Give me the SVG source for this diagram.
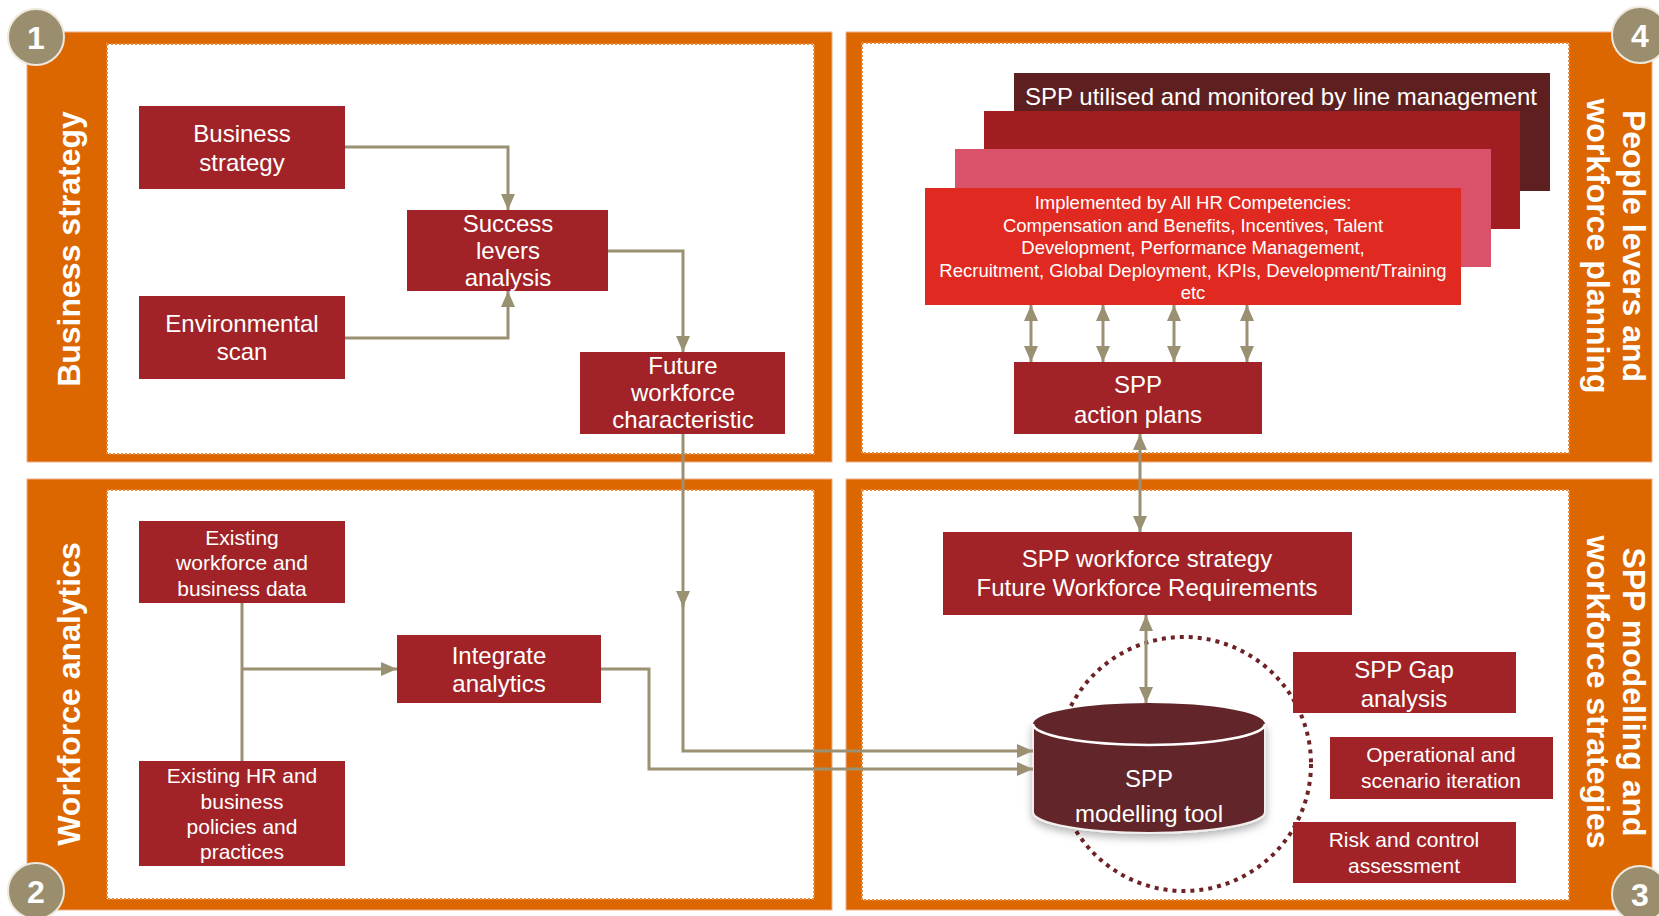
<svg xmlns="http://www.w3.org/2000/svg" width="1659" height="916" viewBox="0 0 1659 916">
<style>
.panel{fill:#DC6700;stroke:#EFB08A;stroke-width:1}
.inner{fill:#ffffff;stroke:#E98B3A;stroke-width:2;stroke-dasharray:2 2}
.box{fill:#A12327}
.t{font-family:"Liberation Sans",Arial,sans-serif;fill:#ffffff;text-anchor:middle}
.t24{font-size:24px}
.t21{font-size:21px}
.t18{font-size:18.5px}
.title{font-family:"Liberation Sans",Arial,sans-serif;font-weight:bold;font-size:32px;fill:#ffffff;text-anchor:middle}
.badge{fill:#9A8E6E;stroke:#EEE9DC;stroke-width:2}
.num{font-family:"Liberation Sans",Arial,sans-serif;font-weight:bold;font-size:32px;fill:#ffffff;text-anchor:middle}
.c{fill:none;stroke:#9A9072;stroke-width:3}
</style>
<defs>
<marker id="ah" markerUnits="userSpaceOnUse" markerWidth="16" markerHeight="14" refX="16" refY="7" orient="auto-start-reverse" viewBox="0 0 16 14">
<path d="M0,0 L16,7 L0,14 Z" fill="#9A9072"/>
</marker>
<filter id="sh" x="-20%" y="-20%" width="140%" height="160%">
<feDropShadow dx="0" dy="4" stdDeviation="4" flood-color="#000000" flood-opacity="0.3"/>
</filter>
</defs>

<g id="panel-1">
<rect class="panel" x="27" y="32" width="805" height="430"/>
<rect class="inner" x="107" y="44" width="707" height="410"/>
<text class="title" transform="translate(80,249) rotate(-90)">Business strategy</text>
</g>
<g id="panel-2">
<rect class="panel" x="27" y="479" width="805" height="431"/>
<rect class="inner" x="107" y="490" width="707" height="409"/>
<text class="title" transform="translate(80,694) rotate(-90)">Workforce analytics</text>
</g>
<g id="panel-4">
<rect class="panel" x="846" y="32" width="806" height="430"/>
<rect class="inner" x="862" y="43" width="707" height="410"/>
<text class="title" transform="translate(1623,246) rotate(90)">People levers and</text>
<text class="title" transform="translate(1587,246) rotate(90)">workforce planning</text>
</g>
<g id="panel-3">
<rect class="panel" x="846" y="479" width="806" height="431"/>
<rect class="inner" x="862" y="490" width="707" height="410"/>
<text class="title" transform="translate(1623,692) rotate(90)">SPP modelling and</text>
<text class="title" transform="translate(1587,692) rotate(90)">workforce strategies</text>
</g>

<g id="badge-1"><circle class="badge" cx="36" cy="37" r="28"/><text class="num" x="36" y="49">1</text></g>
<g id="badge-2"><circle class="badge" cx="36" cy="891" r="28"/><text class="num" x="36" y="903">2</text></g>
<g id="badge-3"><circle class="badge" cx="1640" cy="894" r="28"/><text class="num" x="1640" y="906">3</text></g>
<g id="badge-4"><circle class="badge" cx="1640" cy="35" r="28"/><text class="num" x="1640" y="47">4</text></g>

<g id="business-strategy"><rect class="box" x="139" y="106" width="206" height="83"/>
<text class="t t24" x="242" y="142">Business</text><text class="t t24" x="242" y="171">strategy</text></g>
<g id="environmental-scan"><rect class="box" x="139" y="296" width="206" height="83"/>
<text class="t t24" x="242" y="332">Environmental</text><text class="t t24" x="242" y="360">scan</text></g>
<g id="success-levers"><rect class="box" x="407" y="210" width="201" height="81"/>
<text class="t t24" x="508" y="232">Success</text><text class="t t24" x="508" y="259">levers</text><text class="t t24" x="508" y="286">analysis</text></g>
<g id="future-workforce"><rect class="box" x="580" y="352" width="205" height="82"/>
<text class="t t24" x="683" y="374">Future</text><text class="t t24" x="683" y="401">workforce</text><text class="t t24" x="683" y="428">characteristic</text></g>

<g id="existing-workforce"><rect class="box" x="139" y="521" width="206" height="82"/>
<text class="t t21" x="242" y="545">Existing</text><text class="t t21" x="242" y="570">workforce and</text><text class="t t21" x="242" y="596">business data</text></g>
<g id="existing-hr"><rect class="box" x="139" y="761" width="206" height="105"/>
<text class="t t21" x="242" y="783">Existing HR and</text><text class="t t21" x="242" y="809">business</text><text class="t t21" x="242" y="834">policies and</text><text class="t t21" x="242" y="859">practices</text></g>
<g id="integrate-analytics"><rect class="box" x="397" y="635" width="204" height="68"/>
<text class="t t24" x="499" y="664">Integrate</text><text class="t t24" x="499" y="692">analytics</text></g>

<g id="hr-stack">
<rect x="1014" y="73" width="536" height="118" fill="#5E1F20"/>
<rect x="984" y="111" width="536" height="118" fill="#A01E22"/>
<rect x="955" y="149" width="536" height="118" fill="#D9526A"/>
<rect x="925" y="188" width="536" height="117" fill="#E02A21"/>
<text class="t t24" x="1281" y="105">SPP utilised and monitored by line management</text>
<text class="t t18" x="1193" y="209">Implemented by All HR Competencies:</text>
<text class="t t18" x="1193" y="232">Compensation and Benefits, Incentives, Talent</text>
<text class="t t18" x="1193" y="254">Development, Performance Management,</text>
<text class="t t18" x="1193" y="277">Recruitment, Global Deployment, KPIs, Development/Training</text>
<text class="t t18" x="1193" y="299">etc</text>
</g>
<g id="action-plans"><rect class="box" x="1014" y="362" width="248" height="72"/>
<text class="t t24" x="1138" y="393">SPP</text><text class="t t24" x="1138" y="423">action plans</text></g>

<g id="workforce-strategy"><rect class="box" x="943" y="532" width="409" height="83"/>
<text class="t t24" x="1147" y="567">SPP workforce strategy</text><text class="t t24" x="1147" y="596">Future Workforce Requirements</text></g>
<g id="modelling-scope"><circle cx="1184" cy="764" r="127" fill="none" stroke="#6E2226" stroke-width="4" stroke-dasharray="4 5"/></g>
<g id="modelling-tool">
<path d="M1033,724 V812 A116,21 0 0 0 1265,812 V724 Z" fill="#62262A" stroke="#F2EEEE" stroke-width="2" filter="url(#sh)"/>
<ellipse cx="1149" cy="724" rx="116" ry="21" fill="#62262A"/>
<path d="M1033,724 A116,21 0 0 0 1265,724" fill="none" stroke="#ffffff" stroke-width="2.5"/>
<text class="t t24" x="1149" y="787">SPP</text><text class="t t24" x="1149" y="822">modelling tool</text>
</g>
<g id="gap-analysis"><rect class="box" x="1293" y="652" width="223" height="61"/>
<text class="t t24" x="1404" y="678">SPP Gap</text><text class="t t24" x="1404" y="707">analysis</text></g>
<g id="operational"><rect class="box" x="1330" y="737" width="223" height="62"/>
<text class="t t21" x="1441" y="762">Operational and</text><text class="t t21" x="1441" y="788">scenario iteration</text></g>
<g id="risk"><rect class="box" x="1293" y="822" width="223" height="61"/>
<text class="t t21" x="1404" y="847">Risk and control</text><text class="t t21" x="1404" y="873">assessment</text></g>

<g id="connectors">
<path class="c" d="M345,147 H508 V210" marker-end="url(#ah)"/>
<path class="c" d="M345,338 H508 V291" marker-end="url(#ah)"/>
<path class="c" d="M608,251 H683 V352" marker-end="url(#ah)"/>
<path class="c" d="M683,434 V607" marker-end="url(#ah)"/>
<path class="c" d="M683,600 V751 H1033" marker-end="url(#ah)"/>
<path class="c" d="M601,669 H649 V769 H1033" marker-end="url(#ah)"/>
<path class="c" d="M242,603 V761"/>
<path class="c" d="M242,669 H397" marker-end="url(#ah)"/>
<path class="c" d="M1031,305 V362" marker-start="url(#ah)" marker-end="url(#ah)"/>
<path class="c" d="M1103,305 V362" marker-start="url(#ah)" marker-end="url(#ah)"/>
<path class="c" d="M1174,305 V362" marker-start="url(#ah)" marker-end="url(#ah)"/>
<path class="c" d="M1247,305 V362" marker-start="url(#ah)" marker-end="url(#ah)"/>
<path class="c" d="M1140,434 V532" marker-start="url(#ah)" marker-end="url(#ah)"/>
<path class="c" d="M1146,615 V703" marker-start="url(#ah)" marker-end="url(#ah)"/>
</g>
</svg>
